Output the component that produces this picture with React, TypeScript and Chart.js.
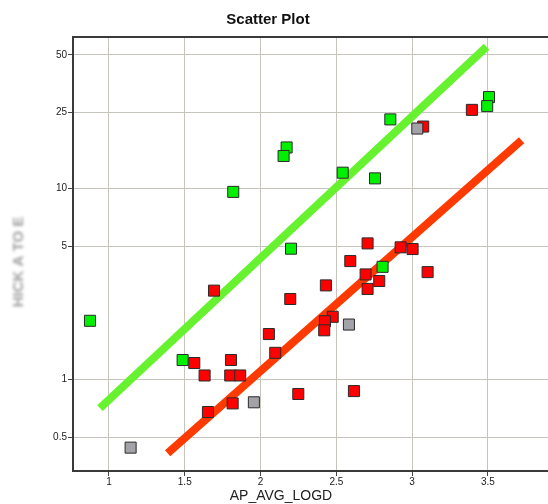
import React, { useEffect, useRef } from "react";
import { Chart, registerables } from "chart.js";

Chart.register(...registerables);

const chartTitle = "Scatter Plot";
const xTitle = "AP_AVG_LOGD";
const yTitle = "HICK A TO E";

const xTickValues = [1, 1.5, 2, 2.5, 3, 3.5];
const yTickValues = [0.5, 1, 5, 10, 25, 50];

const redX = [3.394, 3.073, 2.706, 2.924, 3.003, 2.592, 2.693, 3.102, 2.783, 2.706, 2.431, 2.476, 2.425, 2.42, 1.693, 2.196, 2.055, 2.097, 1.563, 1.805, 1.631, 1.8, 1.866, 2.249, 2.616, 1.816, 1.653];
const redY = [25.8, 21.1, 5.16, 4.92, 4.82, 4.17, 3.55, 3.65, 3.28, 2.98, 3.11, 2.13, 2.02, 1.81, 2.92, 2.64, 1.73, 1.38, 1.22, 1.265, 1.05, 1.05, 1.05, 0.84, 0.87, 0.75, 0.676];

const greenX = [3.507, 3.495, 2.856, 2.172, 2.152, 2.542, 2.755, 1.82, 2.201, 2.805, 0.875, 1.486];
const greenY = [30.1, 27.0, 23.0, 16.4, 14.8, 12.1, 11.3, 9.6, 4.84, 3.89, 2.03, 1.265];

const grayX = [3.034, 2.583, 1.956, 1.143];
const grayY = [20.6, 1.94, 0.76, 0.44];

const greenLineX = [0.941, 3.491];
const greenLineY = [0.709, 55.2];
const redLineX = [1.387, 3.722];
const redLineY = [0.411, 17.9];

const X_MIN = 0.763;
const X_MAX = 4.239;
const Y_MIN = 0.332;
const Y_MAX = 62.1;

const pts = (xs: number[], ys: number[]) => xs.map((x, i) => ({ x, y: ys[i] }));

export default function App() {
  const ref = useRef<HTMLCanvasElement | null>(null);
  useEffect(() => {
    if (!ref.current) return;
    const decor = {
      id: "decor",
      afterDraw(chart: any) {
        const ctx = chart.ctx;
        const a = chart.chartArea;
        ctx.save();
        ctx.strokeStyle = "#3a3a3a";
        ctx.lineWidth = 2;
        ctx.beginPath();
        ctx.moveTo(a.left - 1, a.top);
        ctx.lineTo(a.right + 40, a.top);
        ctx.stroke();
        ctx.fillStyle = "#111";
        ctx.textAlign = "center";
        ctx.textBaseline = "middle";
        ctx.font = "bold 15px 'Liberation Sans', Arial, sans-serif";
        ctx.fillText(chartTitle, 268, 20);
        ctx.font = "14px 'Liberation Sans', Arial, sans-serif";
        ctx.fillStyle = "#222";
        ctx.fillText(xTitle, 281, 496);
        ctx.translate(19, 262);
        ctx.rotate(-Math.PI / 2);
        ctx.filter = "blur(1.4px)";
        ctx.fillStyle = "#a0a0a0";
        ctx.font = "bold 15px 'Liberation Sans', Arial, sans-serif";
        ctx.fillText(yTitle, 0, 0);
        ctx.restore();
      },
    };
    const chart = new Chart(ref.current, {
      type: "scatter",
      data: {
        datasets: [
          {
            type: "line",
            data: pts(greenLineX, greenLineY),
            borderColor: "#66f22e",
            borderWidth: 8,
            pointRadius: 0,
            borderCapStyle: "butt",
            order: 10,
          } as any,
          {
            type: "line",
            data: pts(redLineX, redLineY),
            borderColor: "#ff3a00",
            borderWidth: 8,
            pointRadius: 0,
            borderCapStyle: "butt",
            order: 9,
          } as any,
          {
            data: pts(redX, redY),
            backgroundColor: "#ff0000",
            borderColor: "#2a2a2a",
            borderWidth: 1,
            pointStyle: "rect",
            pointRadius: 7.8,
            order: 3,
          },
          {
            data: pts(greenX, greenY),
            backgroundColor: "#00f000",
            borderColor: "#2a2a2a",
            borderWidth: 1,
            pointStyle: "rect",
            pointRadius: 7.8,
            order: 2,
          },
          {
            data: pts(grayX, grayY),
            backgroundColor: "#a2a2a8",
            borderColor: "#2a2a2a",
            borderWidth: 1,
            pointStyle: "rect",
            pointRadius: 7.8,
            order: 1,
          },
        ],
      },
      options: {
        responsive: false,
        animation: false,
        layout: { padding: { top: 37, left: 0, right: 20, bottom: 0 } },
        plugins: { legend: { display: false }, tooltip: { enabled: false }, title: { display: false } },
        scales: {
          x: {
            type: "linear",
            bounds: "data",
            min: X_MIN,
            max: X_MAX,
            afterFit: (s: any) => { s.height = 33; },
            afterBuildTicks: (s: any) => {
              s.ticks = xTickValues.map((v) => ({ value: v }));
              s.min = X_MIN;
              s.max = X_MAX;
            },
            ticks: {
              callback: (v: any) => String(v),
              font: { family: "'Liberation Sans', Arial, sans-serif", size: 10 },
              color: "#222",
              padding: 0,
              maxRotation: 0,
              autoSkip: false,
            },
            grid: { color: "#c6c4bd", lineWidth: 1, tickLength: 5, tickColor: "#444" },
            border: { color: "#3a3a3a", width: 2 },
          },
          y: {
            type: "logarithmic",
            bounds: "data",
            min: Y_MIN,
            max: Y_MAX,
            afterFit: (s: any) => { s.width = 73; },
            afterBuildTicks: (s: any) => {
              s.ticks = yTickValues.map((v) => ({ value: v }));
              s.min = Y_MIN;
              s.max = Y_MAX;
            },
            ticks: {
              callback: (v: any) => String(v),
              font: { family: "'Liberation Sans', Arial, sans-serif", size: 10 },
              color: "#222",
              padding: 1,
              autoSkip: false,
            },
            grid: { color: "#c6c4bd", lineWidth: 1, tickLength: 5, tickColor: "#444" },
            border: { color: "#3a3a3a", width: 2 },
          },
        },
      },
      plugins: [decor],
    } as any);
    return () => chart.destroy();
  }, []);
  return (
    <div style={{ position: "absolute", left: 0, top: 0, width: 548, height: 504, overflow: "hidden", background: "#fff" }}>
      <canvas ref={ref} width={620} height={504} style={{ display: "block" }} />
    </div>
  );
}
